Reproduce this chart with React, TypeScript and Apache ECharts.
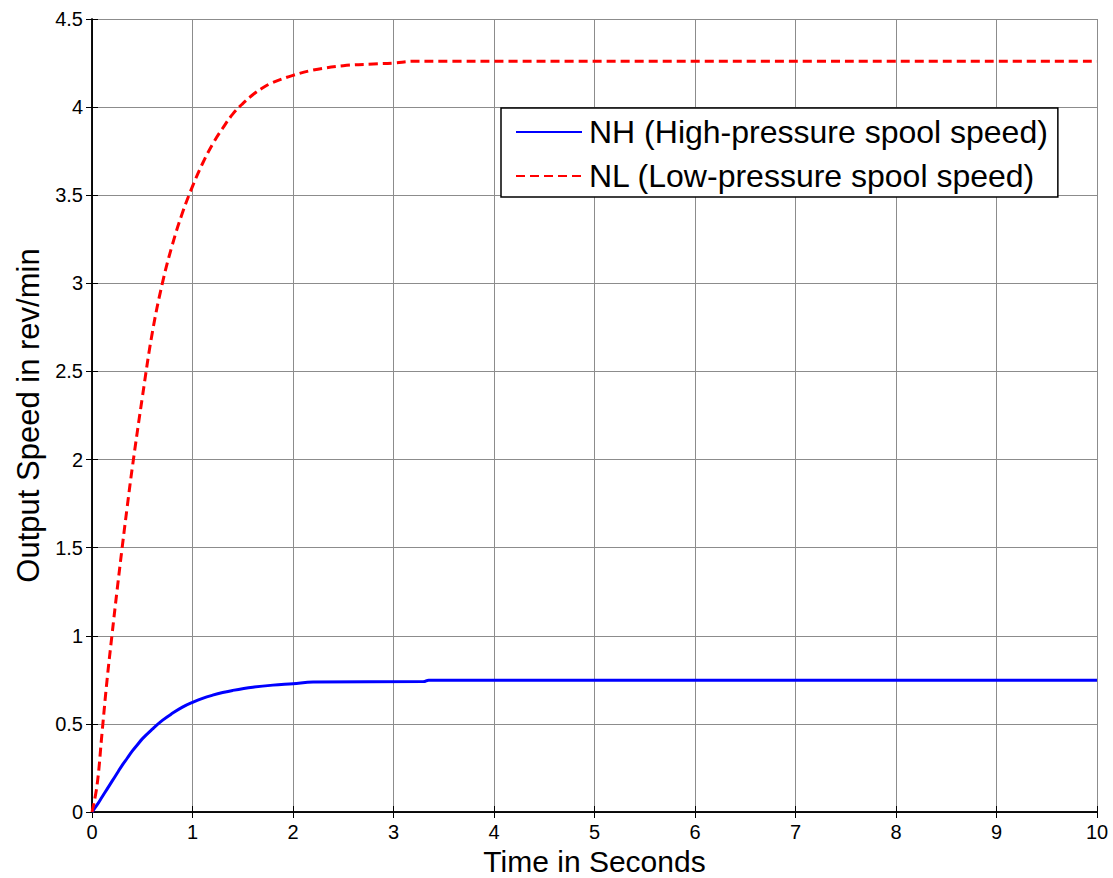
import React, { useEffect, useRef } from "react";
import * as echarts from "echarts";

const nhTime = [0, 0.05, 0.1, 0.15, 0.2, 0.25, 0.3, 0.35, 0.4, 0.45, 0.5, 0.6, 0.7, 0.8, 0.9, 1.0, 1.1, 1.2, 1.3, 1.4, 1.6, 1.8, 2.0, 2.2, 3.3, 3.35, 10];
const nhValue = [0, 0.04, 0.085, 0.13, 0.175, 0.22, 0.265, 0.305, 0.345, 0.38, 0.415, 0.47, 0.52, 0.56, 0.595, 0.622, 0.645, 0.663, 0.678, 0.69, 0.708, 0.72, 0.728, 0.737, 0.74, 0.748, 0.748];

const nlTime = [0, 0.05, 0.1, 0.15, 0.2, 0.25, 0.3, 0.35, 0.4, 0.5, 0.6, 0.7, 0.8, 0.9, 1.0, 1.1, 1.2, 1.3, 1.4, 1.5, 1.6, 1.7, 1.8, 2.0, 2.2, 2.5, 2.8, 3.0, 3.2, 10];
const nlValue = [0, 0.15, 0.45, 0.75, 1.01, 1.26, 1.5, 1.73, 1.95, 2.35, 2.72, 3.0, 3.22, 3.4, 3.55, 3.68, 3.79, 3.88, 3.96, 4.02, 4.07, 4.11, 4.14, 4.18, 4.21, 4.235, 4.245, 4.25, 4.26, 4.26];

const seriesNames = ["NH (High-pressure spool speed)", "NL (Low-pressure spool speed)"];
const xTitle = "Time in Seconds";
const yTitle = "Output Speed in rev/min";

export default function App() {
  const ref = useRef<HTMLDivElement>(null);
  useEffect(() => {
    if (!ref.current) return;
    const chart = echarts.init(ref.current, undefined, { renderer: "svg" });
    const font = "'Liberation Sans', Arial, sans-serif";
    const axisLine = { show: true, lineStyle: { color: "#000", width: 1.5 } };
    const tick = { show: true, inside: true, length: 6, lineStyle: { color: "#000" } };
    chart.setOption({
      animation: false,
      backgroundColor: "#fff",
      grid: { left: 92, right: 16, top: 19, bottom: 66, containLabel: false, outerBoundsMode: "none" },
      legend: {
        orient: "vertical",
        left: 501,
        top: 108,
        itemWidth: 66,
        itemHeight: 4,
        itemGap: 12,
        padding: [8, 10, 5, 14],
        borderColor: "#000",
        borderWidth: 1.5,
        backgroundColor: "#fff",
        textStyle: { fontFamily: font, fontSize: 32, color: "#000", padding: [0, 0, 0, 2] },
        itemStyle: { opacity: 0 },
        data: seriesNames,
      },
      xAxis: [
        {
          type: "value",
          min: 0,
          max: 10,
          interval: 1,
          name: xTitle,
          nameLocation: "middle",
          nameGap: 34,
          nameTextStyle: { fontFamily: font, fontSize: 30, color: "#000", lineHeight: 30 },
          axisLine,
          axisTick: tick,
          axisLabel: { fontFamily: font, fontSize: 20, color: "#000", margin: 10 },
          splitLine: { show: true, lineStyle: { color: "#8c8c8c", width: 1 } },
        },
        {
          type: "value",
          position: "top",
          min: 0,
          max: 10,
          interval: 1,
          axisLine,
          axisTick: tick,
          axisLabel: { show: false },
          splitLine: { show: false },
        },
      ],
      yAxis: [
        {
          type: "value",
          min: 0,
          max: 4.5,
          interval: 0.5,
          name: yTitle,
          nameLocation: "middle",
          nameGap: 48,
          nameTextStyle: { fontFamily: font, fontSize: 31, color: "#000" },
          axisLine,
          axisTick: tick,
          axisLabel: { fontFamily: font, fontSize: 20, color: "#000", margin: 9 },
          splitLine: { show: true, lineStyle: { color: "#8c8c8c", width: 1 } },
        },
        {
          type: "value",
          position: "right",
          min: 0,
          max: 4.5,
          interval: 0.5,
          axisLine,
          axisTick: tick,
          axisLabel: { show: false },
          splitLine: { show: false },
        },
      ],
      series: [
        {
          name: seriesNames[0],
          type: "line",
          symbol: "none",
          smooth: 0.4,
          data: nhTime.map((t, i) => [t, nhValue[i]]),
          lineStyle: { color: "#0000ff", width: 3 },
          itemStyle: { color: "#0000ff" },
        },
        {
          name: seriesNames[1],
          type: "line",
          symbol: "none",
          smooth: 0.4,
          data: nlTime.map((t, i) => [t, nlValue[i]]),
          lineStyle: { color: "#ff0000", width: 3, type: [9, 5] },
          itemStyle: { color: "#ff0000" },
        },
      ],
    });
    return () => chart.dispose();
  }, []);
  return <div ref={ref} style={{ width: 1113, height: 878, position: "absolute", left: 0, top: 0 }} />;
}
